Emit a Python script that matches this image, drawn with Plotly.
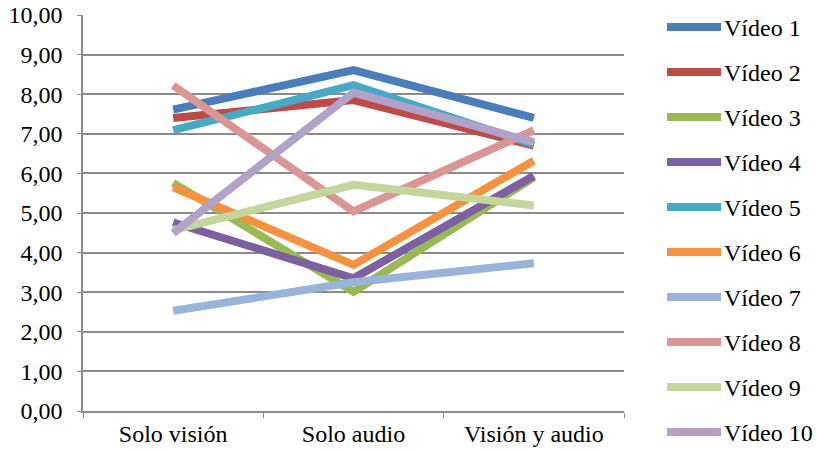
import plotly.graph_objects as go

categories = ["Solo visión", "Solo audio", "Visión y audio"]
series_names = ["Vídeo 1", "Vídeo 2", "Vídeo 3", "Vídeo 4", "Vídeo 5",
                "Vídeo 6", "Vídeo 7", "Vídeo 8", "Vídeo 9", "Vídeo 10"]
video1 = [7.61, 8.61, 7.40]
video2 = [7.40, 7.85, 6.70]
video3 = [5.76, 3.01, 5.90]
video4 = [4.76, 3.35, 5.94]
video5 = [7.09, 8.23, 6.73]
video6 = [5.65, 3.69, 6.32]
video7 = [2.53, 3.25, 3.73]
video8 = [8.22, 5.04, 7.09]
video9 = [4.57, 5.71, 5.19]
video10 = [4.49, 8.04, 6.79]
series_values = [video1, video2, video3, video4, video5,
                  video6, video7, video8, video9, video10]
colors = ["#4A7EBB", "#BE4B48", "#98B954", "#7D60A0", "#46AAC5",
          "#F59240", "#98B4D8", "#D99694", "#C3D69B", "#B3A2C7"]
y_ticks = [0, 1, 2, 3, 4, 5, 6, 7, 8, 9, 10]

font_family = "Liberation Serif"
FS = 24

# plot area geometry (pixels)
W, H = 817, 452
ML, MR, MT, MB = 83, 193, 15, 41
PW = W - ML - MR
PH = H - MT - MB


def px_x(x):
    return (x - ML) / PW


def px_y(y):
    return (H - MB - y) / PH


fig = go.Figure()
for name, vals, col in zip(series_names, series_values, colors):
    fig.add_trace(go.Scatter(
        x=categories, y=vals, name=name, mode="lines", showlegend=False,
        line=dict(color=col, width=8),
    ))

# legend drawn as line samples + labels
for i, (name, col) in enumerate(zip(series_names, colors)):
    yc = 27 + 45 * i
    fig.add_shape(type="line", xref="paper", yref="paper",
                  x0=px_x(667), x1=px_x(721), y0=px_y(yc), y1=px_y(yc),
                  line=dict(color=col, width=8))
    fig.add_annotation(xref="paper", yref="paper", x=px_x(722), y=px_y(yc + 1),
                       xanchor="left", yanchor="middle", text=name,
                       showarrow=False,
                       font=dict(family=font_family, size=FS, color="black"))

fig.update_layout(
    width=W, height=H,
    margin=dict(l=ML, r=MR, t=MT, b=MB, autoexpand=False),
    paper_bgcolor="white", plot_bgcolor="white",
    separators=", ",
    font=dict(family=font_family, size=FS, color="black"),
    showlegend=False,
    xaxis=dict(
        type="category", range=[-0.5, 2.5], automargin=False,
        showgrid=False, showline=True, linecolor="#8A8A8A", linewidth=1.5,
        ticks="outside", tickson="boundaries", ticklen=5, tickcolor="#8A8A8A",
        tickfont=dict(family=font_family, size=FS, color="black"),
    ),
    yaxis=dict(
        range=[0, 10], tickvals=y_ticks, tickformat=".2f", automargin=False,
        showgrid=True, gridcolor="#8A8A8A", gridwidth=1.5,
        showline=True, linecolor="#8A8A8A", linewidth=1.5,
        ticks="outside", ticklen=4, tickcolor="#8A8A8A",
        ticklabelstandoff=10,
        tickfont=dict(family=font_family, size=FS, color="black"),
        zeroline=False,
    ),
)

fig.write_html("out.html")
